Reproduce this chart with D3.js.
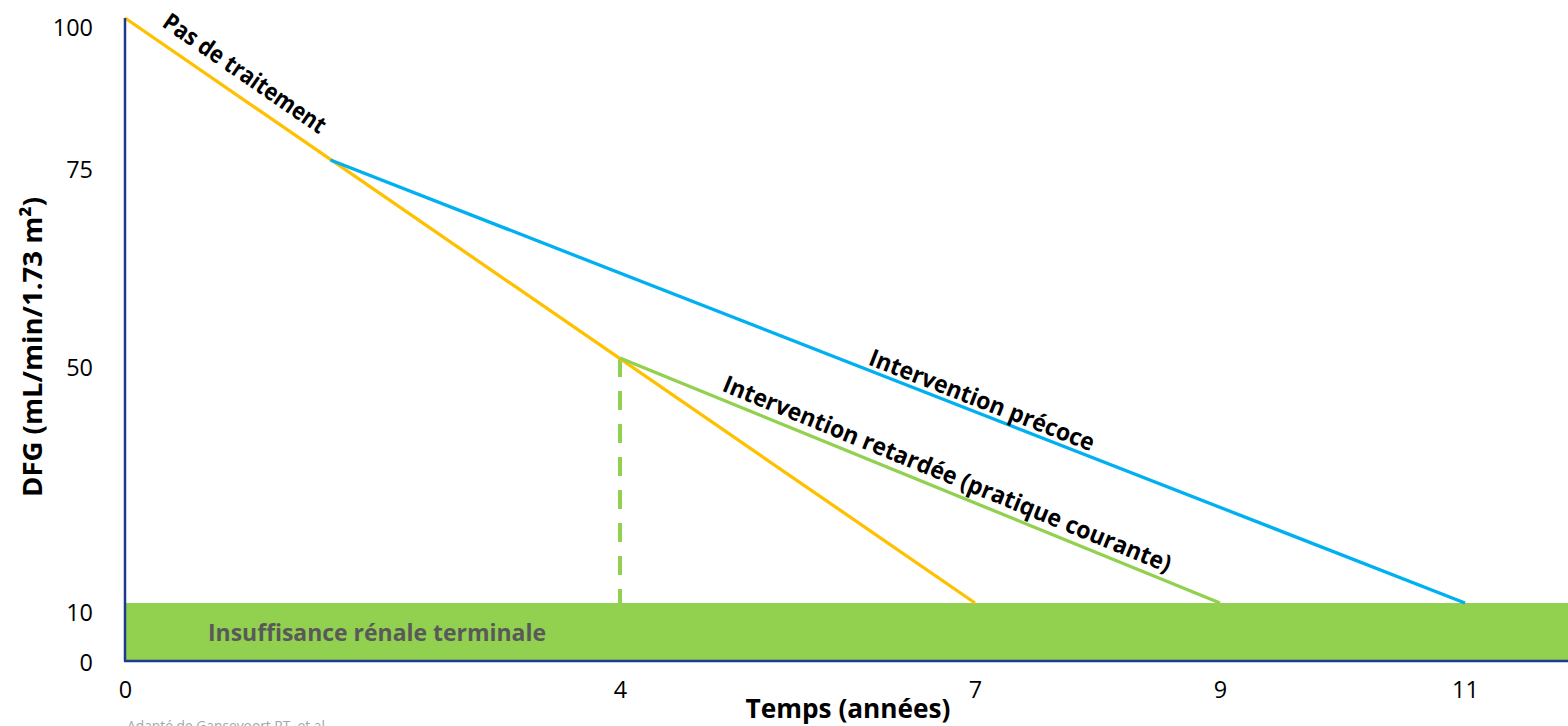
<!DOCTYPE html>
<html><head><meta charset="utf-8">
<script src="https://cdn.jsdelivr.net/npm/d3@7"></script>
<style>body{margin:0;background:#fff} svg{display:block} text{font-family:"Open Sans",Lato,sans-serif}</style>
</head><body>
<svg id="c" width="1568" height="726"></svg>
<script>
// ---- data ----
const yTicks = [0, 10, 50, 75, 100];
const xTicks = [0, 4, 7, 9, 11];
const noTreatment = [{t: 0, v: 100}, {t: 7, v: 10}];
const earlyIntervention = [{t: 1.66, v: 75}, {t: 11, v: 10}];
const delayedIntervention = [{t: 4, v: 50}, {t: 9, v: 10}];
const delayedStartMarker = [{t: 4, v: 50}, {t: 4, v: 10}];
const esrdRange = [0, 10];
const esrdLabel = "Insuffisance rénale terminale";
const seriesLabels = ["Pas de traitement", "Intervention précoce", "Intervention retardée (pratique courante)"];
const xTitle = "Temps (années)";
const yTitle = "DFG (mL/min/1.73 m²)";
const sourceNote = "Adapté de Gansevoort RT, et al";

// ---- layout ----
const W = 1568;
const svg = d3.select("#c");
// schematic (non-uniform) scales, as in the original figure
const x = d3.scaleLinear().domain([0, 4, 7, 9, 11]).range([125, 620, 975, 1220, 1465]);
const y = d3.scaleLinear().domain([0, 10, 50, 75, 100]).range([661, 603, 358, 160, 18]);
const line = d3.line().x(d => x(d.t)).y(d => y(d.v));

const navy = "#1d3a8e", orange = "#ffc000", blue = "#00b0f0", green = "#92d050";

// ESRD band
svg.append("rect")
  .attr("x", x(0)).attr("y", y(esrdRange[1]))
  .attr("width", W - x(0)).attr("height", y(esrdRange[0]) - y(esrdRange[1]))
  .attr("fill", green);
svg.append("text")
  .attr("x", 208).attr("y", (y(esrdRange[0]) + y(esrdRange[1])) / 2)
  .attr("dy", "0.36em")
  .attr("font-size", 24).attr("font-weight", "bold").attr("fill", "#595959")
  .attr("textLength", 338).attr("lengthAdjust", "spacingAndGlyphs")
  .text(esrdLabel);

// series
function drawSeries(data, color, w, dash) {
  const p = svg.append("path").datum(data).attr("d", line)
    .attr("fill", "none").attr("stroke", color).attr("stroke-width", w);
  if (dash) p.attr("stroke-dasharray", dash);
}
drawSeries(delayedStartMarker, green, 4, "19 14");
drawSeries(noTreatment, orange, 3.3);
drawSeries(earlyIntervention, blue, 3.3);
drawSeries(delayedIntervention, green, 3.3);

// labels along lines (baseline placed `off` px above the line)
function lineLabel(data, text, frac, off, len) {
  const x0 = x(data[0].t), y0 = y(data[0].v), x1 = x(data[1].t), y1 = y(data[1].v);
  const ang = Math.atan2(y1 - y0, x1 - x0);
  const px = x0 + (x1 - x0) * frac + Math.sin(ang) * off;
  const py = y0 + (y1 - y0) * frac - Math.cos(ang) * off;
  svg.append("text")
    .attr("transform", `translate(${px},${py}) rotate(${ang * 180 / Math.PI})`)
    .attr("text-anchor", "middle")
    .attr("font-size", 24).attr("font-weight", "bold").attr("fill", "#000")
    .attr("textLength", len).attr("lengthAdjust", "spacingAndGlyphs")
    .text(text);
}
lineLabel(noTreatment, seriesLabels[0], 0.126, 14, 192);
lineLabel(earlyIntervention, seriesLabels[1], 0.57, 5, 240);
lineLabel(delayedIntervention, seriesLabels[2], 0.535, 8, 482);

// axes
const yAxis = svg.append("g").attr("transform", `translate(${x(0)},0)`)
  .call(d3.axisLeft(y).tickValues(yTicks).tickSize(0).tickPadding(32).tickFormat(d3.format("d")));
yAxis.select(".domain").remove();
yAxis.selectAll("text").attr("font-size", 24).attr("fill", "#000")
  .attr("font-family", "'Open Sans', sans-serif")
  .attr("dy", d => d === 0 ? "0.4em" : "0.72em")
  .attr("textLength", d => String(d).length * 13.4).attr("lengthAdjust", "spacingAndGlyphs");

const xAxis = svg.append("g").attr("transform", `translate(0,${y(0)})`)
  .call(d3.axisBottom(x).tickValues(xTicks).tickSize(0).tickPadding(20).tickFormat(d3.format("d")));
xAxis.select(".domain").remove();
xAxis.selectAll("text").attr("font-size", 24).attr("fill", "#000")
  .attr("font-family", "'Open Sans', sans-serif")
  .attr("textLength", d => String(d).length * 13.4).attr("lengthAdjust", "spacingAndGlyphs");

svg.append("line").attr("x1", x(0)).attr("x2", x(0)).attr("y1", y(100)).attr("y2", y(0))
  .attr("stroke", navy).attr("stroke-width", 2.5);
svg.append("line").attr("x1", x(0) - 1).attr("x2", W).attr("y1", y(0)).attr("y2", y(0))
  .attr("stroke", navy).attr("stroke-width", 2.5);

// titles
svg.append("text").attr("x", 848).attr("y", 718).attr("text-anchor", "middle")
  .attr("font-size", 27).attr("font-weight", "bold")
  .attr("textLength", 205).attr("lengthAdjust", "spacingAndGlyphs").text(xTitle);
svg.append("text").attr("transform", "translate(42,347) rotate(-90)").attr("text-anchor", "middle")
  .attr("font-size", 27).attr("font-weight", "bold")
  .attr("textLength", 300).attr("lengthAdjust", "spacingAndGlyphs").text(yTitle);
svg.append("text").attr("x", 127).attr("y", 731).attr("font-size", 15).attr("fill", "#a6a6a6")
  .attr("textLength", 198).attr("lengthAdjust", "spacingAndGlyphs").text(sourceNote);
</script>
</body></html>
